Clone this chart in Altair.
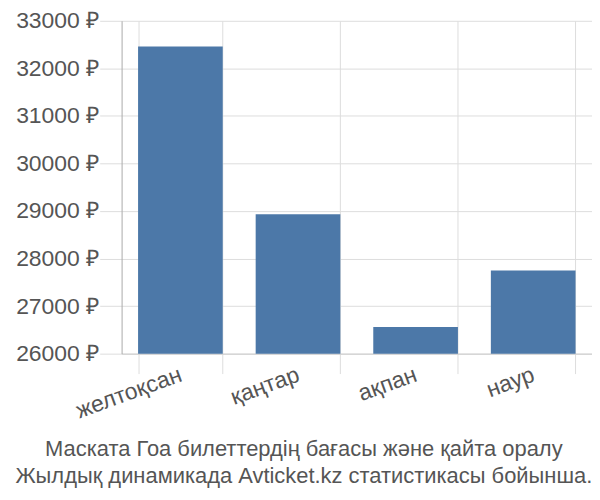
import altair as alt
import pandas as pd

months = ["желтоқсан", "қаңтар", "ақпан", "наур"]
prices = [32460, 28930, 26560, 27750]
y_ticks = [26000, 27000, 28000, 29000, 30000, 31000, 32000, 33000]
title_lines = ["Маската Гоа билеттердің бағасы және қайта оралу",
               "Жылдық динамикада Avticket.kz статистикасы бойынша."]

df = pd.DataFrame({"month": months, "price": prices})

chart = alt.Chart(df).mark_bar(color="#4c78a8", clip=True).encode(
    x=alt.X("month:N", sort=months, title=None,
            scale=alt.Scale(paddingInner=0.28, paddingOuter=0.14),
            axis=alt.Axis(labelAngle=340, labelAlign="right", labelBaseline="middle",
                          labelFontSize=23, labelColor="#555", labelFont="Liberation Sans",
                          tickBand="extent", tickSize=20, tickColor="#ddd",
                          domainColor="#ccc", grid=True, gridColor="#ddd",
                          labelPadding=0, labelOffset=0)),
    y=alt.Y("price:Q", title=None,
            scale=alt.Scale(domain=[26000, 33000], nice=False, zero=False),
            axis=alt.Axis(values=y_ticks, labelExpr="datum.value + ' ₽'",
                          labelFontSize=23, labelColor="#555", labelFont="Liberation Sans",
                          tickSize=22, tickColor="#ddd", domainColor="#aaa",
                          gridColor="#ddd", labelPadding=1)),
).properties(
    width=472, height=334,
    title=alt.TitleParams(text=title_lines, orient="bottom", fontSize=22,
                          font="Liberation Sans", fontWeight="normal", color="#555",
                          offset=16, lineHeight=28, frame="bounds", anchor="middle"),
    padding={"left": 114, "top": 12, "right": 0, "bottom": 138},
    autosize="none",
).configure_view(stroke=None)

chart.save("out.html", embed_options={"renderer": "svg", "actions": False})
